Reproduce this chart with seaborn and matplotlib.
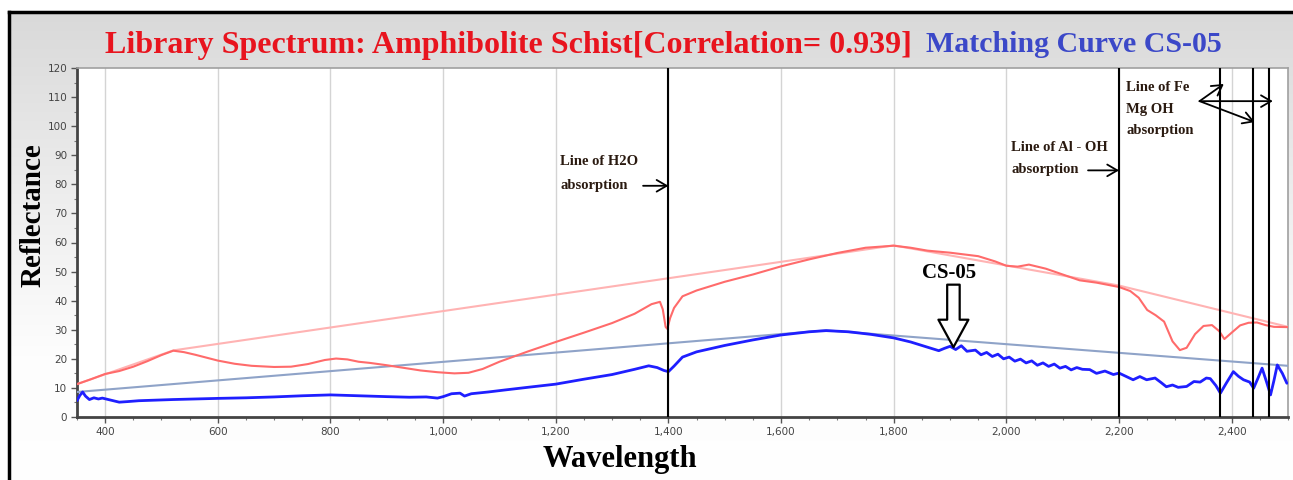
import numpy as np
import pandas as pd
import matplotlib
matplotlib.use("Agg")
import matplotlib.pyplot as plt
import seaborn as sns
from matplotlib.ticker import FuncFormatter, MultipleLocator
from matplotlib.colors import LinearSegmentedColormap

# ---------------- data ----------------
lib_wl = [350, 375, 400, 425, 450, 475, 500, 521, 540, 560, 580, 600, 630, 660, 700, 730, 760, 790,
          810, 830, 850, 870, 900, 930, 960, 990, 1020, 1045, 1070, 1100, 1150, 1200, 1250, 1300,
          1340, 1370, 1385, 1390, 1395, 1398, 1403, 1410, 1425, 1450, 1500, 1550, 1600, 1650, 1700,
          1750, 1800, 1830, 1860, 1900, 1950, 1980, 2000, 2020, 2040, 2070, 2100, 2130, 2160, 2200,
          2220, 2235, 2250, 2265, 2280, 2295, 2308, 2320, 2335, 2350, 2365, 2378, 2387, 2400, 2415,
          2430, 2445, 2460, 2475, 2500]
lib_refl = [11.3, 13.0, 14.8, 15.8, 17.3, 19.2, 21.3, 22.8, 22.3, 21.4, 20.4, 19.4, 18.3, 17.6, 17.2,
            17.3, 18.2, 19.6, 20.1, 19.8, 19.0, 18.6, 17.8, 16.9, 16.0, 15.4, 15.0, 15.2, 16.5, 19.0,
            22.5, 25.8, 29.0, 32.3, 35.5, 38.8, 39.6, 37.0, 31.0, 30.3, 34.0, 37.5, 41.5, 43.5, 46.5,
            49.0, 51.8, 54.2, 56.4, 58.2, 58.9, 58.2, 57.2, 56.5, 55.3, 53.5, 52.0, 51.7, 52.4, 51.0,
            49.0, 47.0, 46.2, 44.7, 43.3, 41.0, 36.8, 35.0, 32.8, 26.0, 23.0, 23.8, 28.5, 31.3, 31.6,
            29.5, 26.8, 29.0, 31.5, 32.4, 32.5, 31.6, 31.0, 30.9]

lib_hull_wl = [350, 521, 1800, 2200, 2500]
lib_hull_refl = [11.3, 22.9, 59.0, 45.2, 31.0]

cs_wl = [350, 355, 360, 365, 372, 380, 388, 395, 410, 425, 440, 460, 490, 520, 560, 600, 650, 700,
         750, 800, 850, 900, 940, 970, 990, 1000, 1015, 1030, 1038, 1050, 1080, 1110, 1150, 1200,
         1250, 1300, 1340, 1365, 1380, 1392, 1400, 1410, 1425, 1450, 1500, 1550, 1600, 1650, 1680,
         1720, 1760, 1800, 1830, 1860, 1880, 1890, 1900, 1910, 1920, 1930, 1945, 1955, 1965, 1975,
         1985, 1995, 2005, 2015, 2025, 2035, 2045, 2055, 2065, 2075, 2085, 2095, 2105, 2115, 2125,
         2135, 2148, 2160, 2175, 2190, 2200, 2212, 2225, 2237, 2249, 2264, 2275, 2284, 2295, 2305,
         2320, 2333, 2344, 2355, 2362, 2372, 2380, 2390, 2403, 2412, 2421, 2432, 2439, 2447, 2454,
         2462, 2469, 2475, 2481, 2490, 2498]
cs_refl = [5.6, 7.4, 8.6, 7.2, 6.0, 6.6, 6.2, 6.5, 5.8, 5.1, 5.3, 5.6, 5.8, 6.0, 6.2, 6.4, 6.6, 6.9,
           7.3, 7.6, 7.3, 7.0, 6.8, 6.9, 6.5, 7.0, 8.0, 8.2, 7.2, 8.0, 8.6, 9.3, 10.2, 11.3, 13.0,
           14.6, 16.4, 17.6, 17.0, 16.0, 15.6, 17.5, 20.6, 22.4, 24.6, 26.5, 28.2, 29.3, 29.7, 29.3,
           28.4, 27.2, 25.8, 24.0, 22.8, 23.6, 24.3, 23.2, 24.5, 22.6, 23.0, 21.4, 22.2, 20.8, 21.6,
           20.0, 20.6, 19.2, 19.9, 18.6, 19.3, 17.8, 18.6, 17.4, 18.2, 16.8, 17.4, 16.2, 17.0, 16.4,
           16.3, 15.0, 15.8, 14.6, 15.1, 14.0, 12.8, 13.9, 12.8, 13.4, 11.8, 10.4, 11.0, 10.2, 10.5,
           12.2, 12.0, 13.4, 13.2, 10.8, 8.2, 11.5, 15.6, 14.0, 12.8, 12.0, 9.9, 13.5, 16.8, 12.0,
           7.6, 12.5, 17.9, 15.0, 11.6]

cs_hull_wl = [350, 1680, 2500]
cs_hull_refl = [8.6, 29.8, 17.6]

absorption_lines = [1400, 2200, 2380, 2438, 2466]

x_ticks = [400, 600, 800, 1000, 1200, 1400, 1600, 1800, 2000, 2200, 2400]
y_ticks = [0, 10, 20, 30, 40, 50, 60, 70, 80, 90, 100, 110, 120]

title_red = "Library Spectrum: Amphibolite Schist[Correlation= 0.939]"
title_blue = "Matching Curve CS-05"

# ---------------- figure ----------------
sns.set_theme(style="white")
plt.rcParams['font.family'] = ['DejaVu Sans']

W, H = 1293, 480
fig = plt.figure(figsize=(W / 100, H / 100), dpi=100, facecolor="white")

# grey gradient panel with black frame
bg = fig.add_axes([9 / W, -0.1, 1.0, 1 - 12 / H + 0.1], zorder=0)
grad = np.linspace(0, 1, 256).reshape(-1, 1)
cmap = LinearSegmentedColormap.from_list("g", ["#d9d9d9", "#ececec", "#fdfdfd", "#ffffff"])
bg.imshow(grad, aspect="auto", cmap=cmap, extent=[0, 1, 0, 1], origin="upper")
bg.set_xticks([]); bg.set_yticks([])
for s in bg.spines.values():
    s.set_color("black"); s.set_linewidth(2.5)

ax = fig.add_axes([77 / W, (H - 417) / H, (1288 - 77) / W, (417 - 68) / H], zorder=1)
ax.set_facecolor("white")

df_lib = pd.DataFrame({"wl": lib_wl, "r": lib_refl})
df_libh = pd.DataFrame({"wl": lib_hull_wl, "r": lib_hull_refl})
df_cs = pd.DataFrame({"wl": cs_wl, "r": cs_refl})
df_csh = pd.DataFrame({"wl": cs_hull_wl, "r": cs_hull_refl})

sns.lineplot(data=df_libh, x="wl", y="r", ax=ax, color="#ffb3b3", lw=1.5, zorder=3)
sns.lineplot(data=df_csh, x="wl", y="r", ax=ax, color="#8fa3c8", lw=1.5, zorder=3)
sns.lineplot(data=df_lib, x="wl", y="r", ax=ax, color="#ff6b6b", lw=1.5, zorder=4)
sns.lineplot(data=df_cs, x="wl", y="r", ax=ax, color="#1f1fff", lw=2.0, zorder=4)

for xv in absorption_lines:
    ax.axvline(xv, color="black", lw=1.5, zorder=5)

ax.set_xlim(350, 2500)
ax.set_ylim(0, 120)
ax.set_xticks(x_ticks)
ax.set_yticks(y_ticks)
ax.xaxis.set_minor_locator(MultipleLocator(50))
ax.yaxis.set_minor_locator(MultipleLocator(5))
ax.xaxis.set_major_formatter(FuncFormatter(lambda v, p: f"{int(v):,}"))
ax.grid(axis="x", color="#d4d4d4", lw=1, zorder=1)
ax.tick_params(axis="both", which="major", direction="out", length=4, width=1, color="#555555",
               labelsize=7.5, labelcolor="#444444", bottom=True, left=True, pad=3)
ax.tick_params(axis="both", which="minor", direction="out", length=2, width=0.8, color="#777777",
               bottom=True, left=True)
for side in ["left", "bottom"]:
    ax.spines[side].set_color("#444444"); ax.spines[side].set_linewidth(2)
for side in ["top", "right"]:
    ax.spines[side].set_color("#a0a0a0"); ax.spines[side].set_linewidth(1.2)
ax.set_xlabel("")
ax.set_ylabel("")

serif = "Liberation Serif"
fig.text(33 / W, 1 - 215 / H, "Reflectance", rotation=90, ha="center", va="center",
         fontsize=21, fontweight="bold", family=serif, color="black")
fig.text(620 / W, 1 - 460 / H, "Wavelength", ha="center", va="center",
         fontsize=22, fontweight="bold", family=serif, color="black")

# title in two colours
t1 = fig.text(105 / W, 1 - 45 / H, title_red, ha="left", va="center", fontsize=23,
              fontweight="bold", family=serif, color="#e8141e")
fig.canvas.draw()
bb = t1.get_window_extent(renderer=fig.canvas.get_renderer())
fig.text((bb.x1 + 14) / W, 1 - 45 / H, title_blue, ha="left", va="center", fontsize=21.5,
         fontweight="bold", family=serif, color="#3b48c8")

# annotations
ann_kw = dict(fontsize=10.5, fontweight="bold", family=serif, color="#2a1a10", zorder=6)
arrow_kw = dict(arrowstyle="->,head_length=0.6,head_width=0.35", color="black", lw=1.3,
                shrinkA=0, shrinkB=0)
ax.text(1208, 88, "Line of H2O", ha="left", va="center", **ann_kw)
ax.text(1208, 79.5, "absorption", ha="left", va="center", **ann_kw)
ax.annotate("", xy=(1400, 79.5), xytext=(1355, 79.5), arrowprops=arrow_kw)

ax.text(2009, 92.8, "Line of Al - OH", ha="left", va="center", **ann_kw)
ax.text(2009, 85.0, "absorption", ha="left", va="center", **ann_kw)
ax.annotate("", xy=(2200, 84.8), xytext=(2145, 84.8), arrowprops=arrow_kw)

ax.text(2213, 113.4, "Line of Fe", ha="left", va="center", **ann_kw)
ax.text(2213, 105.9, "Mg OH", ha="left", va="center", **ann_kw)
ax.text(2213, 98.6, "absorption", ha="left", va="center", **ann_kw)
for tx, ty in [(2386, 114.5), (2473, 108.6), (2441, 101.4)]:
    ax.annotate("", xy=(tx, ty), xytext=(2343, 108.6), arrowprops=arrow_kw)

ax.text(1898, 49.5, "CS-05", ha="center", va="center", fontsize=15, fontweight="bold",
        family=serif, color="black", zorder=6)
ax.annotate("", xy=(1906, 24.0), xytext=(1906, 45.5),
            arrowprops=dict(arrowstyle="simple,head_length=1.1,head_width=1.2,tail_width=0.5",
                            fc="white", ec="black", lw=1.6, mutation_scale=18,
                            shrinkA=0, shrinkB=0), zorder=6)

fig.savefig("out.png", dpi=100, facecolor="white")
